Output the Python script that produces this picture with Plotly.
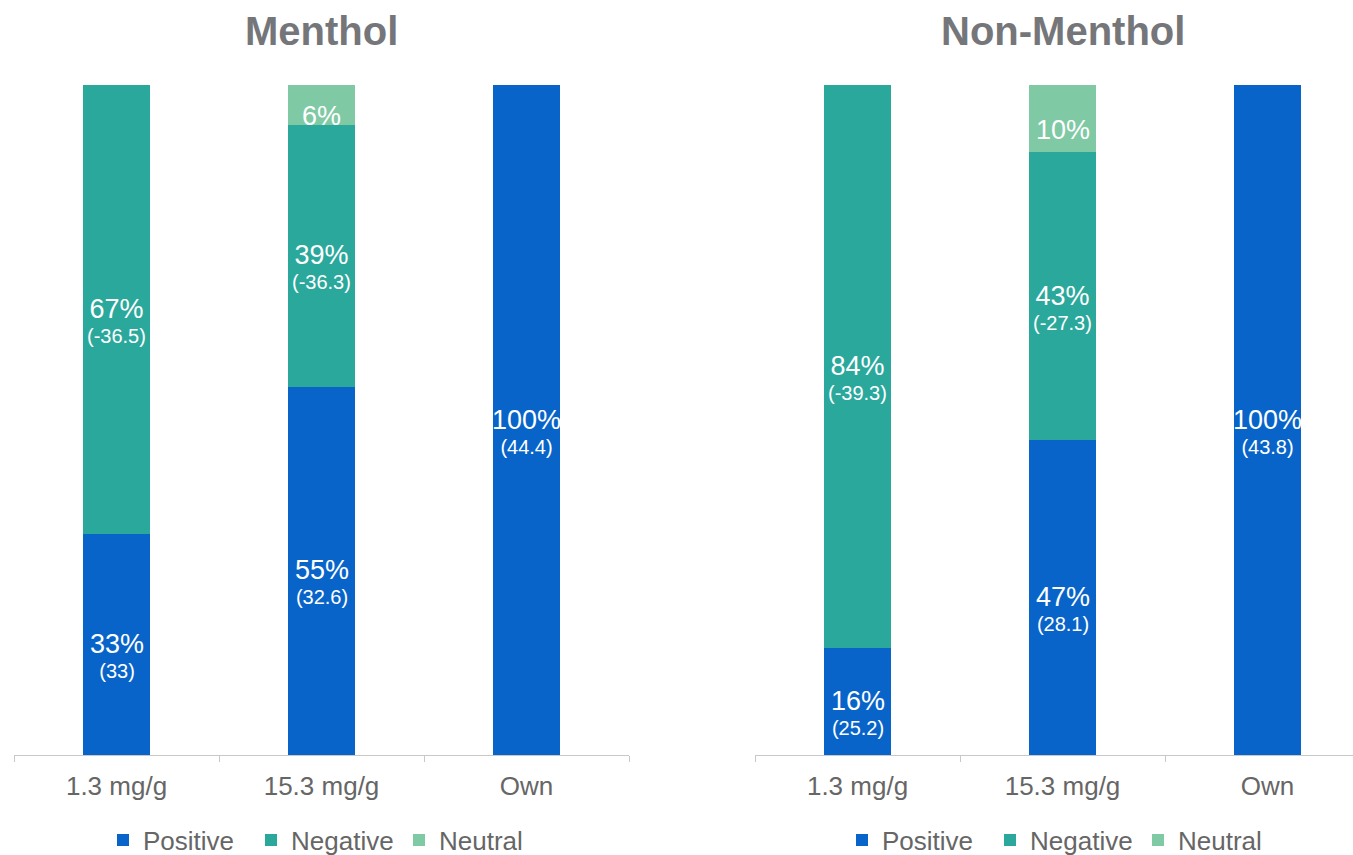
import plotly.graph_objects as go

# Categories and values
categories = ["1.3 mg/g", "15.3 mg/g", "Own"]
series_names = ["Positive", "Negative", "Neutral"]

menthol_positive = [33, 55, 100]
menthol_negative = [67, 39, 0]
menthol_neutral = [0, 6, 0]
menthol_pos_score = [33, 32.6, 44.4]
menthol_neg_score = [-36.5, -36.3, None]

nonmenthol_positive = [16, 47, 100]
nonmenthol_negative = [84, 43, 0]
nonmenthol_neutral = [0, 10, 0]
nonmenthol_pos_score = [25.2, 28.1, 43.8]
nonmenthol_neg_score = [-39.3, -27.3, None]

colors = {"Positive": "#0864c9", "Negative": "#2aa89c", "Neutral": "#7fc9a5"}
FONT = "Liberation Sans, Arial, sans-serif"
GRAY = "#666666"
W, H = 1353, 855


def label_text(pct, score):
    s = f"<span style='font-size:27px'>{pct}%</span>"
    if score is not None:
        s += f"<br><span style='font-size:20px'>({score:g})</span>"
    return s


fig = go.Figure()
annotations = []

panels = [
    ("x", "y", "legend", [menthol_positive, menthol_negative, menthol_neutral],
     [menthol_pos_score, menthol_neg_score, [None] * 3]),
    ("x2", "y2", "legend2", [nonmenthol_positive, nonmenthol_negative, nonmenthol_neutral],
     [nonmenthol_pos_score, nonmenthol_neg_score, [None] * 3]),
]

for xa, ya, lg, vals, scores in panels:
    base = [0] * len(categories)
    for name, v, sc in zip(series_names, vals, scores):
        fig.add_trace(go.Bar(
            x=categories, y=v, name=name, xaxis=xa, yaxis=ya, legend=lg,
            marker=dict(color=colors[name], line=dict(width=0)),
            width=0.33, hoverinfo="skip",
        ))
        # segment labels, centred on each stacked segment
        for i, cat in enumerate(categories):
            if v[i]:
                annotations.append(dict(
                    text=label_text(v[i], sc[i]), x=cat, xref=xa,
                    y=base[i] + v[i] / 2, yref=ya, yshift=-11,
                    showarrow=False, xanchor="center", yanchor="middle",
                    font=dict(size=19, color="white", family=FONT),
                ))
            base[i] += v[i]

axis_common = dict(
    showline=True, linecolor="#c8c8c8", linewidth=1,
    ticks="outside", tickson="boundaries", ticklen=6, tickcolor="#c8c8c8",
    ticklabelstandoff=8,
    tickfont=dict(size=26, color=GRAY, family=FONT),
    showgrid=False, zeroline=False, fixedrange=True,
)
yaxis_common = dict(range=[0, 100], visible=False, showgrid=False, zeroline=False)

legend_common = dict(
    orientation="h", xanchor="center", y=-0.127, yanchor="middle",
    font=dict(size=26, color=GRAY, family=FONT), itemwidth=30,
    entrywidthmode="pixels", entrywidth=103,
    traceorder="normal", bgcolor="rgba(0,0,0,0)",
)

for title, xa in [("Menthol", "x"), ("Non-Menthol", "x2")]:
    annotations.append(dict(
        text=f"<b>{title}</b>", x=1, xref=xa, y=1 + 54 / 670, yref="paper",
        showarrow=False, xanchor="center", yanchor="middle",
        font=dict(size=40, color="#75767a", family=FONT),
    ))

fig.update_layout(
    width=W, height=H,
    margin=dict(l=0, r=0, t=85, b=100, autoexpand=False),
    barmode="stack",
    plot_bgcolor="white", paper_bgcolor="white",
    font=dict(family=FONT, color=GRAY),
    xaxis=dict(domain=[14 / W, 629 / W], range=[-0.5, 2.5], anchor="y", **axis_common),
    yaxis=dict(domain=[0, 1], anchor="x", **yaxis_common),
    xaxis2=dict(domain=[755 / W, 1], range=[-0.5, 2.417], anchor="y2", **axis_common),
    yaxis2=dict(domain=[0, 1], anchor="x2", **yaxis_common),
    legend=dict(x=325 / W, **legend_common),
    legend2=dict(x=1064 / W, **legend_common),
    showlegend=True,
    annotations=annotations,
)

fig.write_html("out.html")
